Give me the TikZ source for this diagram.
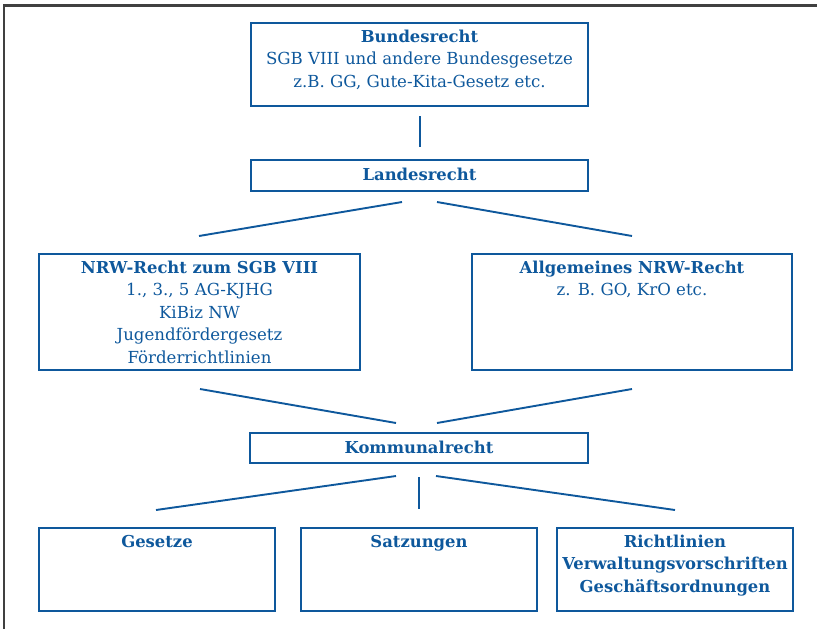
\documentclass[tikz,border=0pt]{standalone}
\usepackage{fontspec}
\setmainfont{DejaVu Serif}
\definecolor{lawblue}{RGB}{14,88,156}
\definecolor{framegray}{RGB}{64,64,64}
\tikzset{
  box/.style={draw=lawblue, line width=2pt, inner sep=0pt, rectangle},
  ttl/.style={text=lawblue, font=\fontsize{16.4}{20}\selectfont\bfseries, anchor=base, inner sep=0pt},
  txt/.style={text=lawblue, font=\fontsize{16.6}{20}\selectfont, anchor=base, inner sep=0pt},
  con/.style={draw=lawblue, line width=1.9pt},
}
\begin{document}
\begin{tikzpicture}[x=1pt,y=-1pt]
\useasboundingbox (0,0) rectangle (817,629);
% frame
\coordinate (fTL) at (4,5.5);
\coordinate (fTR) at (817,5.5);
\coordinate (fBL) at (4,629);
\draw[framegray, line width=2.2pt] (fBL) -- (fTL) -- (fTR);

% boxes
\node[box, minimum width=337pt, minimum height=83pt] (bund) at (419.5,64.5) {};
\node[box, minimum width=337pt, minimum height=31pt] (land) at (419.5,175.5) {};
\node[box, minimum width=321pt, minimum height=116pt] (nrw) at (199.5,312) {};
\node[box, minimum width=320pt, minimum height=116pt] (allg) at (632,312) {};
\node[box, minimum width=338pt, minimum height=30pt] (komm) at (419,448) {};
\node[box, minimum width=236pt, minimum height=83pt] (ges) at (157,569.5) {};
\node[box, minimum width=236pt, minimum height=83pt] (satz) at (419,569.5) {};
\node[box, minimum width=236pt, minimum height=83pt] (richt) at (675,569.5) {};

% texts
\node[ttl] (bundA) at (419.5,42) {Bundesrecht};
\node[txt] (bundB) at (419.5,64.5) {SGB VIII und andere Bundesgesetze};
\node[txt] (bundC) at (419.5,87) {z.B. GG, Gute-Kita-Gesetz etc.};
\node[ttl] (landA) at (419.5,180.5) {Landesrecht};
\node[ttl] (nrwA) at (199.5,273) {NRW-Recht zum SGB VIII};
\node[txt] (nrwB) at (199.5,295.5) {1., 3., 5 AG-KJHG};
\node[txt] (nrwC) at (199.5,318) {KiBiz NW};
\node[txt] (nrwD) at (199.5,340.5) {Jugendfördergesetz};
\node[txt] (nrwE) at (199.5,363) {Förderrichtlinien};
\node[ttl] (allgA) at (632,273) {Allgemeines NRW-Recht};
\node[txt] (allgB) at (632,295.5) {z. B. GO, KrO etc.};
\node[ttl] (kommA) at (419,453) {Kommunalrecht};
\node[ttl] (gesA) at (157,547) {Gesetze};
\node[ttl] (satzA) at (419,547) {Satzungen};
\node[ttl] (richtA) at (675,547) {Richtlinien};
\node[ttl] (richtB) at (675,569.5) {Verwaltungsvorschriften};
\node[ttl] (richtC) at (675,592) {Geschäftsordnungen};

% connector ends
\coordinate (c1a) at (420,116);  \coordinate (c1b) at (420,147);
\coordinate (c2a) at (402,202);  \coordinate (c2b) at (199,236);
\coordinate (c3a) at (437,202);  \coordinate (c3b) at (632,236);
\coordinate (c4a) at (200,389);  \coordinate (c4b) at (396,423);
\coordinate (c5a) at (632,389);  \coordinate (c5b) at (437,423);
\coordinate (c6a) at (396,476);  \coordinate (c6b) at (156,510);
\coordinate (c7a) at (419,477);  \coordinate (c7b) at (419,509);
\coordinate (c8a) at (436,476);  \coordinate (c8b) at (675,510);

\draw[con] (c1a) -- (c1b);
\draw[con] (c2a) -- (c2b);
\draw[con] (c3a) -- (c3b);
\draw[con] (c4a) -- (c4b);
\draw[con] (c5a) -- (c5b);
\draw[con] (c6a) -- (c6b);
\draw[con] (c7a) -- (c7b);
\draw[con] (c8a) -- (c8b);
\end{tikzpicture}
\end{document}
